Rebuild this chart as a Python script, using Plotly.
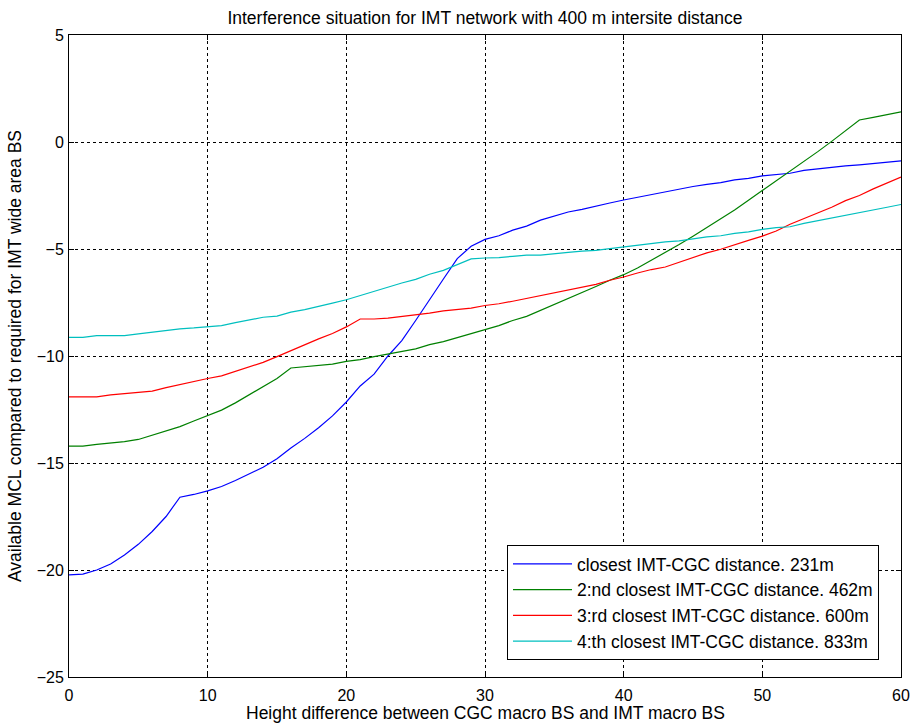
import plotly.graph_objects as go

x_vals = list(range(0, 61))

closest_231 = [-20.23, -20.19, -20.0, -19.72, -19.3, -18.8, -18.2, -17.5, -16.6, -16.47,
               -16.3, -16.1, -15.82, -15.5, -15.2, -14.8, -14.3, -13.85, -13.35, -12.8,
               -12.15, -11.4, -10.85, -10.0, -9.28, -8.34, -7.4, -6.4, -5.45, -4.87,
               -4.55, -4.38, -4.12, -3.93, -3.65, -3.46, -3.27, -3.15, -2.99, -2.85,
               -2.71, -2.58, -2.45, -2.32, -2.2, -2.08, -1.98, -1.9, -1.77, -1.7,
               -1.58, -1.52, -1.46, -1.33, -1.25, -1.17, -1.12, -1.07, -1.0, -0.94,
               -0.88]

second_462 = [-14.21, -14.21, -14.13, -14.07, -14.0, -13.9, -13.7, -13.5, -13.3, -13.04,
              -12.8, -12.53, -12.19, -11.8, -11.44, -11.05, -10.56, -10.5, -10.42, -10.38,
              -10.25, -10.17, -10.03, -9.9, -9.8, -9.67, -9.47, -9.33, -9.14, -8.97,
              -8.77, -8.58, -8.34, -8.15, -7.87, -7.6, -7.34, -7.04, -6.75, -6.46,
              -6.2, -5.89, -5.53, -5.18, -4.79, -4.4, -4.0, -3.62, -3.18, -2.72,
              -2.27, -1.82, -1.37, -0.92, -0.45, 0.03, 0.52, 1.03, 1.15, 1.28,
              1.41]

third_600 = [-11.91, -11.91, -11.91, -11.82, -11.75, -11.71, -11.64, -11.48, -11.33, -11.2,
             -11.05, -10.93, -10.72, -10.49, -10.3, -10.03, -9.75, -9.48, -9.2, -8.95,
             -8.64, -8.27, -8.27, -8.23, -8.15, -8.09, -8.0, -7.89, -7.83, -7.76,
             -7.64, -7.56, -7.44, -7.31, -7.17, -7.04, -6.9, -6.78, -6.65, -6.46,
             -6.31, -6.12, -5.96, -5.84, -5.63, -5.42, -5.18, -5.01, -4.82, -4.6,
             -4.4, -4.16, -3.84, -3.57, -3.3, -3.05, -2.74, -2.5, -2.19, -1.93,
             -1.64]

fourth_833 = [-9.13, -9.13, -9.05, -9.05, -9.05, -8.97, -8.89, -8.81, -8.73, -8.69,
              -8.62, -8.58, -8.44, -8.3, -8.19, -8.14, -7.95, -7.83, -7.69, -7.53,
              -7.37, -7.17, -6.97, -6.78, -6.59, -6.42, -6.18, -6.0, -5.73, -5.46,
              -5.42, -5.4, -5.34, -5.29, -5.29, -5.21, -5.16, -5.1, -5.06, -4.98,
              -4.9, -4.82, -4.74, -4.67, -4.62, -4.51, -4.43, -4.38, -4.27, -4.2,
              -4.08, -4.0, -3.96, -3.8, -3.68, -3.55, -3.41, -3.29, -3.18, -3.05,
              -2.92]

series_names = ["closest IMT-CGC distance. 231m",
                "2:nd closest IMT-CGC distance. 462m",
                "3:rd closest IMT-CGC distance. 600m",
                "4:th closest IMT-CGC distance. 833m"]
series_values = [closest_231, second_462, third_600, fourth_833]
series_colors = ["#0000FF", "#008000", "#FF0000", "#00BFBF"]

x_ticks = [0, 10, 20, 30, 40, 50, 60]
y_ticks = [-25, -20, -15, -10, -5, 0, 5]

FONT = "Arial, Liberation Sans, sans-serif"
TXT = 17.5

fig = go.Figure()
for name, vals, col in zip(series_names, series_values, series_colors):
    fig.add_trace(go.Scatter(x=x_vals, y=vals, mode="lines", name=name,
                             line=dict(color=col, width=1.2)))

axis_common = dict(showline=True, linecolor="black", linewidth=1, mirror="ticks",
                   ticks="inside", ticklen=5, tickcolor="black", automargin=False,
                   showgrid=True, gridcolor="black", gridwidth=1, griddash="dot",
                   zeroline=False, tickfont=dict(family=FONT, size=16, color="black"))

fig.update_layout(
    width=912, height=724,
    margin=dict(l=69, r=11, t=35, b=47, autoexpand=False),
    paper_bgcolor="white", plot_bgcolor="white",
    font=dict(family=FONT, size=TXT, color="black"),
    title=dict(text="Interference situation for IMT network with 400 m intersite distance",
               x=485 / 912, xanchor="center", y=1 - 18 / 724, yanchor="middle", yref="container",
               font=dict(family=FONT, size=TXT, color="black")),
    xaxis=dict(range=[0, 60], tickvals=x_ticks, ticklabelstandoff=4, **axis_common),
    yaxis=dict(range=[-25, 5], tickvals=y_ticks, ticklabelstandoff=1, **axis_common),
    legend=dict(x=(507 - 69) / 832, y=(677 - 545) / 642, xanchor="left", yanchor="top",
                bgcolor="white", bordercolor="black", borderwidth=1,
                font=dict(family=FONT, size=TXT, color="black"),
                tracegroupgap=0, itemwidth=59),
    showlegend=True,
    annotations=[
        dict(text="Height difference between CGC macro BS and IMT macro BS",
             xref="paper", yref="paper", x=0.5, y=(677 - 713) / 642, xanchor="center", yanchor="middle",
             showarrow=False, font=dict(family=FONT, size=TXT, color="black")),
        dict(text="Available MCL compared to required for IMT wide area BS",
             xref="paper", yref="paper", x=-54 / 832, y=0.5, xanchor="center", yanchor="middle",
             textangle=-90, showarrow=False, font=dict(family=FONT, size=TXT, color="black")),
    ],
)

fig.write_html("out.html", config={"displayModeBar": False},
               post_script="document.body.style.margin='0';document.body.style.padding='0';")
